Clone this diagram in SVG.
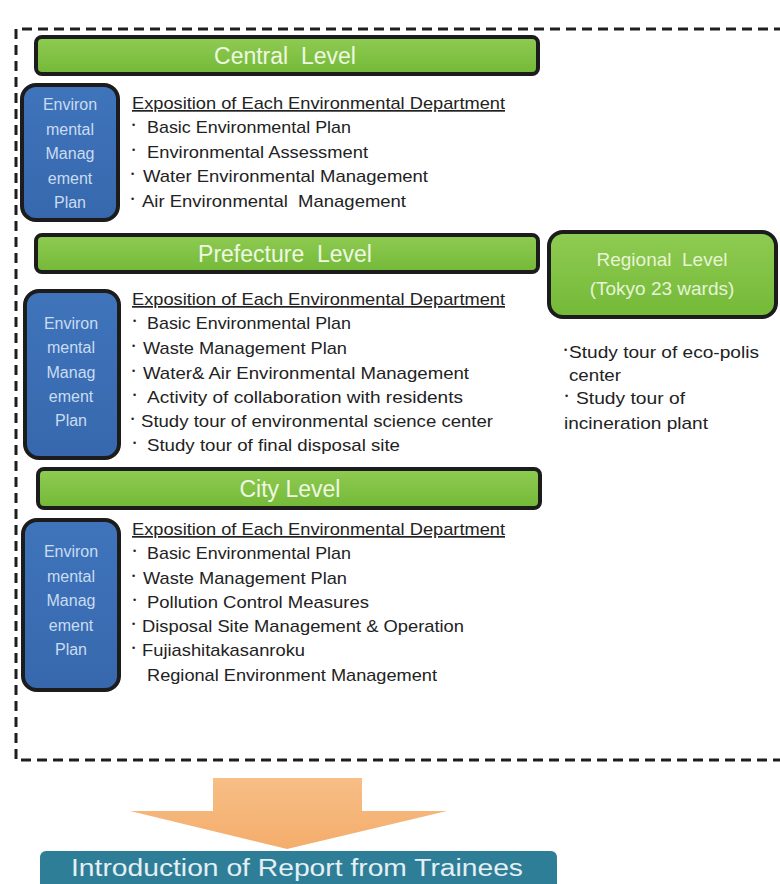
<svg xmlns="http://www.w3.org/2000/svg" width="780" height="884" viewBox="0 0 780 884">
<defs>
<linearGradient id="gGreen" x1="0" y1="0" x2="0" y2="1">
<stop offset="0" stop-color="#8fcb52"/><stop offset="1" stop-color="#74b938"/>
</linearGradient>
<linearGradient id="gBlue" x1="0" y1="0" x2="0" y2="1">
<stop offset="0" stop-color="#3f74bb"/><stop offset="1" stop-color="#3768ad"/>
</linearGradient>
<linearGradient id="gOrange" x1="0" y1="0" x2="0" y2="1">
<stop offset="0" stop-color="#f7be86"/><stop offset="1" stop-color="#f4ad6c"/>
</linearGradient>
<style>
.bar{fill:url(#gGreen);stroke:#1c1c1c;stroke-width:4}
.plan{fill:url(#gBlue);stroke:#1c1c1c;stroke-width:4}
.barT{font-family:"Liberation Sans",Arial,sans-serif;font-size:23px;fill:#eef8e2;text-anchor:middle}
.planT{font-family:"Liberation Sans",Arial,sans-serif;font-size:16px;fill:#c9dcf2;text-anchor:middle}
.t{font-family:"Liberation Sans",Arial,sans-serif;font-size:17px;fill:#222}
.h{font-family:"Liberation Sans",Arial,sans-serif;font-size:17px;fill:#222;text-decoration:underline}
.b{font-size:9px}
.regT{font-family:"Liberation Sans",Arial,sans-serif;font-size:19px;fill:#e6f4d6;text-anchor:middle}
</style>
</defs>
<rect width="780" height="884" fill="#ffffff"/>
<g id="frame">
<path d="M784,29 H16 V760 H784" fill="none" stroke="#1e1e1e" stroke-width="3" stroke-dasharray="10 6"/>
</g>

<g id="central-level">
<rect class="bar" x="36" y="37" width="502" height="37" rx="6"/>
<text class="barT" x="285" y="64" xml:space="preserve">Central  Level</text>
</g>
<g id="central-plan">
<rect class="plan" x="22" y="85" width="96" height="135" rx="14"/>
<text class="planT" x="70" y="110">Environ</text>
<text class="planT" x="70" y="135">mental</text>
<text class="planT" x="70" y="159">Manag</text>
<text class="planT" x="70" y="184">ement</text>
<text class="planT" x="70" y="208">Plan</text>
</g>
<g id="central-items">
<text class="h" x="132" y="109" textLength="373" lengthAdjust="spacingAndGlyphs">Exposition of Each Environmental Department</text>
<text class="t" x="132" y="133"><tspan class="b" dy="-5">•</tspan><tspan dy="5" x="147" textLength="204" lengthAdjust="spacingAndGlyphs">Basic Environmental Plan</tspan></text>
<text class="t" x="132" y="158"><tspan class="b" dy="-5">•</tspan><tspan dy="5" x="147" textLength="221" lengthAdjust="spacingAndGlyphs">Environmental Assessment</tspan></text>
<text class="t" x="131" y="182"><tspan class="b" dy="-5">•</tspan><tspan dy="5" x="143" textLength="285" lengthAdjust="spacingAndGlyphs">Water Environmental Management</tspan></text>
<text class="t" x="131" y="207"><tspan class="b" dy="-5">•</tspan><tspan dy="5" x="142" textLength="264" lengthAdjust="spacingAndGlyphs" xml:space="preserve">Air Environmental  Management</tspan></text>
</g>

<g id="prefecture-level">
<rect class="bar" x="36" y="235" width="502" height="37" rx="6"/>
<text class="barT" x="285" y="262" xml:space="preserve">Prefecture  Level</text>
</g>
<g id="prefecture-plan">
<rect class="plan" x="25" y="291" width="94" height="167" rx="14"/>
<text class="planT" x="71" y="329">Environ</text>
<text class="planT" x="71" y="353">mental</text>
<text class="planT" x="71" y="378">Manag</text>
<text class="planT" x="71" y="402">ement</text>
<text class="planT" x="71" y="426">Plan</text>
</g>
<g id="prefecture-items">
<text class="h" x="132" y="305" textLength="373" lengthAdjust="spacingAndGlyphs">Exposition of Each Environmental Department</text>
<text class="t" x="133" y="329"><tspan class="b" dy="-5">•</tspan><tspan dy="5" x="147" textLength="204" lengthAdjust="spacingAndGlyphs">Basic Environmental Plan</tspan></text>
<text class="t" x="132" y="354"><tspan class="b" dy="-5">•</tspan><tspan dy="5" x="143" textLength="204" lengthAdjust="spacingAndGlyphs">Waste Management Plan</tspan></text>
<text class="t" x="132" y="379"><tspan class="b" dy="-5">•</tspan><tspan dy="5" x="143" textLength="326" lengthAdjust="spacingAndGlyphs">Water&amp; Air Environmental Management</tspan></text>
<text class="t" x="133" y="403"><tspan class="b" dy="-5">•</tspan><tspan dy="5" x="147" textLength="316" lengthAdjust="spacingAndGlyphs">Activity of collaboration with residents</tspan></text>
<text class="t" x="131" y="427"><tspan class="b" dy="-5">•</tspan><tspan dy="5" x="141" textLength="352" lengthAdjust="spacingAndGlyphs">Study tour of environmental science center</tspan></text>
<text class="t" x="133" y="451"><tspan class="b" dy="-5">•</tspan><tspan dy="5" x="147" textLength="253" lengthAdjust="spacingAndGlyphs">Study tour of final disposal site</tspan></text>
</g>

<g id="regional-level">
<rect class="bar" x="549" y="232" width="227" height="85" rx="14"/>
<text class="regT" x="662" y="266" xml:space="preserve">Regional  Level</text>
<text class="regT" x="662" y="295">(Tokyo 23 wards)</text>
</g>
<g id="regional-items">
<text class="t" x="564" y="358"><tspan class="b" dy="-5">•</tspan><tspan dy="5" x="569" textLength="190" lengthAdjust="spacingAndGlyphs">Study tour of eco-polis</tspan></text>
<text class="t" x="569" y="381" textLength="52" lengthAdjust="spacingAndGlyphs">center</text>
<text class="t" x="565" y="404"><tspan class="b" dy="-5">•</tspan><tspan dy="5" x="576" textLength="109" lengthAdjust="spacingAndGlyphs">Study tour of</tspan></text>
<text class="t" x="564" y="429" textLength="144" lengthAdjust="spacingAndGlyphs">incineration plant</text>
</g>

<g id="city-level">
<rect class="bar" x="38" y="469" width="502" height="39" rx="6"/>
<text class="barT" x="290" y="497">City Level</text>
</g>
<g id="city-plan">
<rect class="plan" x="23" y="520" width="96" height="170" rx="14"/>
<text class="planT" x="71" y="557">Environ</text>
<text class="planT" x="71" y="582">mental</text>
<text class="planT" x="71" y="606">Manag</text>
<text class="planT" x="71" y="631">ement</text>
<text class="planT" x="71" y="655">Plan</text>
</g>
<g id="city-items">
<text class="h" x="132" y="535" textLength="373" lengthAdjust="spacingAndGlyphs">Exposition of Each Environmental Department</text>
<text class="t" x="133" y="559"><tspan class="b" dy="-5">•</tspan><tspan dy="5" x="147" textLength="204" lengthAdjust="spacingAndGlyphs">Basic Environmental Plan</tspan></text>
<text class="t" x="132" y="584"><tspan class="b" dy="-5">•</tspan><tspan dy="5" x="143" textLength="204" lengthAdjust="spacingAndGlyphs">Waste Management Plan</tspan></text>
<text class="t" x="133" y="608"><tspan class="b" dy="-5">•</tspan><tspan dy="5" x="147" textLength="222" lengthAdjust="spacingAndGlyphs">Pollution Control Measures</tspan></text>
<text class="t" x="132" y="632"><tspan class="b" dy="-5">•</tspan><tspan dy="5" x="142" textLength="322" lengthAdjust="spacingAndGlyphs">Disposal Site Management &amp; Operation</tspan></text>
<text class="t" x="132" y="656"><tspan class="b" dy="-5">•</tspan><tspan dy="5" x="142" textLength="163" lengthAdjust="spacingAndGlyphs">Fujiashitakasanroku</tspan></text>
<text class="t" x="147" y="681" textLength="290" lengthAdjust="spacingAndGlyphs">Regional Environment Management</text>
</g>

<g id="connectors">
<polygon points="213,778 362,778 362,811 447,811 287,849 130,811 213,811" fill="url(#gOrange)"/>
</g>

<g id="report">
<rect x="40" y="851" width="517" height="44" rx="6" fill="#2f7e98"/>
<text x="297" y="876" font-family="'Liberation Sans',Arial,sans-serif" font-size="23" fill="#e4f0f4" text-anchor="middle" textLength="452" lengthAdjust="spacingAndGlyphs">Introduction of Report from Trainees</text>
</g>
</svg>
